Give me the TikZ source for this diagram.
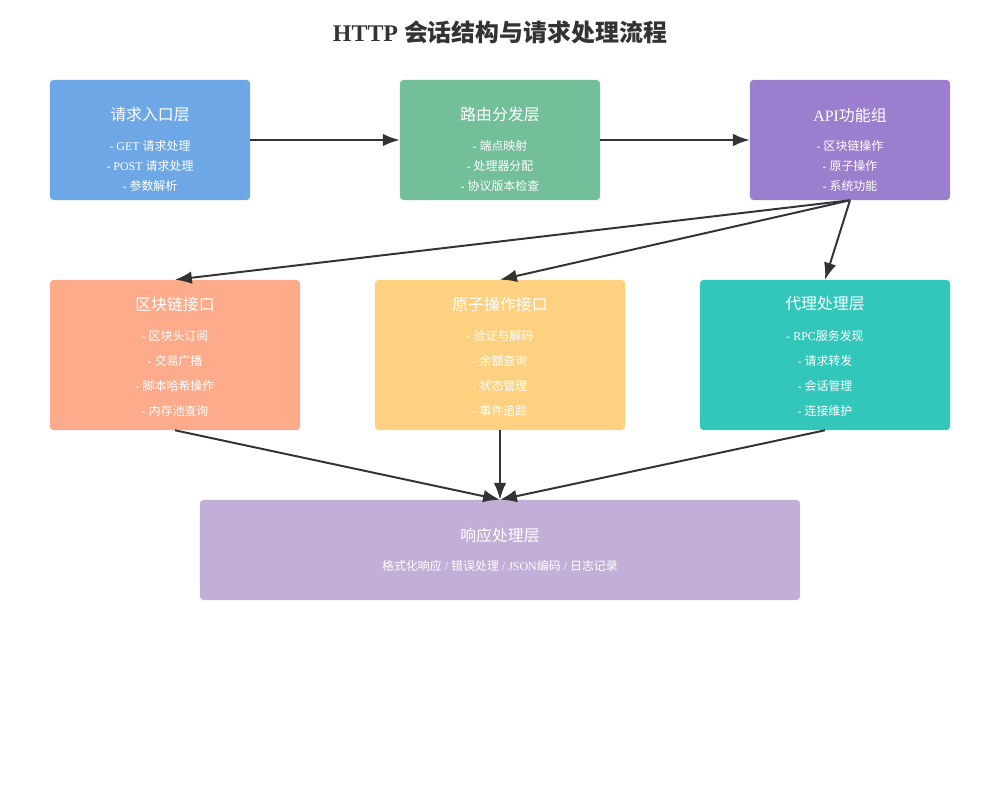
\documentclass[tikz,border=0pt]{standalone}
\usepackage{fontspec}
\setmainfont{Liberation Serif}
\newfontfamily\cjk{Noto Sans CJK SC}
\usetikzlibrary{arrows.meta}
\newcommand{\zh}[1]{{\cjk #1}}

\definecolor{entryblue}{HTML}{6DA7E6}
\definecolor{routegreen}{HTML}{72BF9A}
\definecolor{apipurple}{HTML}{9B7ECE}
\definecolor{blocksalmon}{HTML}{FEAB8C}
\definecolor{atomyellow}{HTML}{FDD180}
\definecolor{proxyteal}{HTML}{33C6BB}
\definecolor{resplilac}{HTML}{C2AFD8}
\definecolor{arrowgray}{HTML}{333333}
\definecolor{titlegray}{HTML}{333333}

\begin{document}
\begin{tikzpicture}[
    x=0.025cm, y=-0.025cm,
    >={Latex[length=12pt, width=9pt]},
    layer/.style={rectangle, rounded corners=2.5pt, inner sep=0pt},
    head/.style={text=white, font=\fontsize{11.3}{13}\selectfont},
    item/.style={text=white, font=\fontsize{8.5}{10}\selectfont},
    line/.style={->, draw=arrowgray, line width=1.4pt}
]
\useasboundingbox (0,0) rectangle (1000,800);

\node[text=titlegray, font=\fontsize{17}{20}\selectfont\bfseries] (title) at (500,32)
    {HTTP \zh{会话结构与请求处理流程}};

% first row
\node[layer, fill=entryblue, minimum width=5cm, minimum height=3cm] (entry) at (150,140) {};
\node[layer, fill=routegreen, minimum width=5cm, minimum height=3cm] (route) at (500,140) {};
\node[layer, fill=apipurple, minimum width=5cm, minimum height=3cm] (api) at (850,140) {};

\node[head] (entryhead) at (150,115) {\zh{请求入口层}};
\node[item] (entry1) at (150,146) {- GET \zh{请求处理}};
\node[item] (entry2) at (150,166) {- POST \zh{请求处理}};
\node[item] (entry3) at (150,186) {- \zh{参数解析}};

\node[head] (routehead) at (500,115) {\zh{路由分发层}};
\node[item] (route1) at (500,146) {- \zh{端点映射}};
\node[item] (route2) at (500,166) {- \zh{处理器分配}};
\node[item] (route3) at (500,186) {- \zh{协议版本检查}};

\node[head] (apihead) at (850,115) {API\zh{功能组}};
\node[item] (api1) at (850,146) {- \zh{区块链操作}};
\node[item] (api2) at (850,166) {- \zh{原子操作}};
\node[item] (api3) at (850,186) {- \zh{系统功能}};

% second row
\node[layer, fill=blocksalmon, minimum width=6.25cm, minimum height=3.75cm] (block) at (175,355) {};
\node[layer, fill=atomyellow, minimum width=6.25cm, minimum height=3.75cm] (atomic) at (500,355) {};
\node[layer, fill=proxyteal, minimum width=6.25cm, minimum height=3.75cm] (proxy) at (825,355) {};

\node[head] (blockhead) at (175,304) {\zh{区块链接口}};
\node[item] (block1) at (175,336) {- \zh{区块头订阅}};
\node[item] (block2) at (175,361) {- \zh{交易广播}};
\node[item] (block3) at (175,386) {- \zh{脚本哈希操作}};
\node[item] (block4) at (175,411) {- \zh{内存池查询}};

\node[head] (atomichead) at (500,304) {\zh{原子操作接口}};
\node[item] (atomic1) at (500,336) {- \zh{验证与解码}};
\node[item] (atomic2) at (500,361) {- \zh{余额查询}};
\node[item] (atomic3) at (500,386) {- \zh{状态管理}};
\node[item] (atomic4) at (500,411) {- \zh{事件追踪}};

\node[head] (proxyhead) at (825,304) {\zh{代理处理层}};
\node[item] (proxy1) at (825,336) {- RPC\zh{服务发现}};
\node[item] (proxy2) at (825,361) {- \zh{请求转发}};
\node[item] (proxy3) at (825,386) {- \zh{会话管理}};
\node[item] (proxy4) at (825,411) {- \zh{连接维护}};

% response layer
\node[layer, fill=resplilac, minimum width=15cm, minimum height=2.5cm] (resp) at (500,550) {};
\node[head] (resphead) at (500,535) {\zh{响应处理层}};
\node[item] (resp1) at (500,566) {\zh{格式化响应} / \zh{错误处理} / JSON\zh{编码} / \zh{日志记录}};

\draw[line] (entry) -- (route);
\draw[line] (route) -- (api);
\draw[line] (api.south) -- (block.north);
\draw[line] (api.south) -- (atomic.north);
\draw[line] (api.south) -- (proxy.north);
\draw[line] (block.south) -- (resp.north);
\draw[line] (atomic.south) -- (resp.north);
\draw[line] (proxy.south) -- (resp.north);
\end{tikzpicture}
\end{document}
